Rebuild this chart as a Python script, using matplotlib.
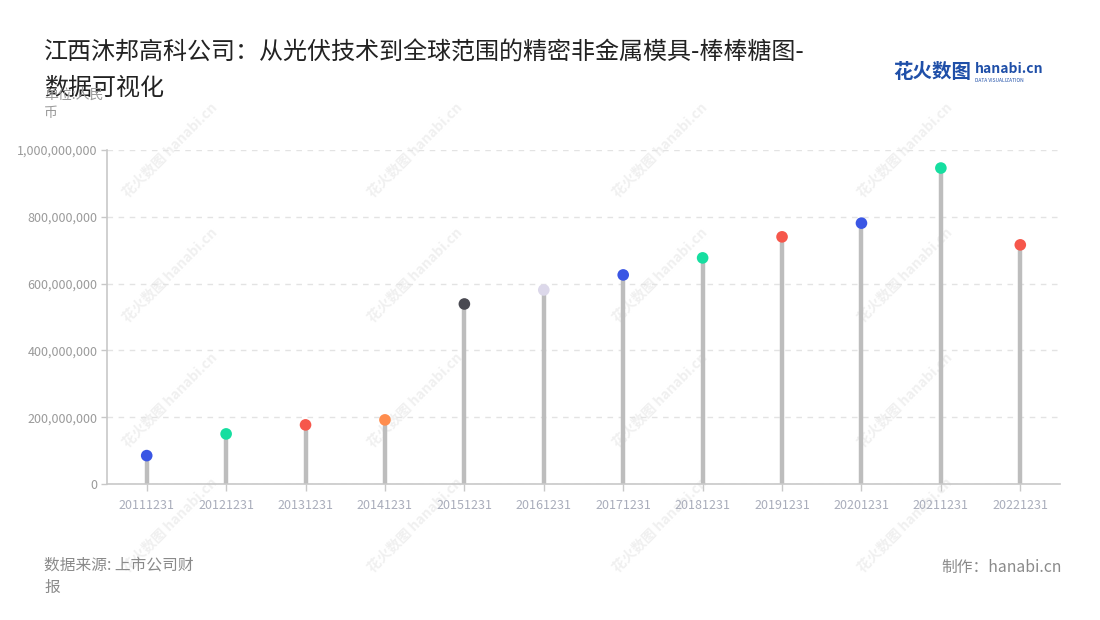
import matplotlib
matplotlib.use("Agg")
import matplotlib.pyplot as plt
from matplotlib.ticker import FuncFormatter

plt.rcParams["font.family"] = ["Noto Sans CJK SC", "DejaVu Sans"]

# data
periods = ["20111231", "20121231", "20131231", "20141231", "20151231", "20161231",
           "20171231", "20181231", "20191231", "20201231", "20211231", "20221231"]
values = [85e6, 150e6, 177e6, 192e6, 539e6, 581e6,
          626e6, 677e6, 740e6, 781e6, 946e6, 716e6]
dot_colors = ["#3a56e4", "#16dea0", "#f6574b", "#ff8d4e", "#4a4a52", "#dcd8ea",
              "#3a56e4", "#16dea0", "#f6574b", "#3a56e4", "#16dea0", "#f6574b"]

title = "江西沐邦高科公司：从光伏技术到全球范围的精密非金属模具-棒棒糖图-\n数据可视化"

fig = plt.figure(figsize=(11, 6.2), dpi=100)
ax = fig.add_axes([107 / 1100, 1 - 484 / 620, 953 / 1100, 334 / 620])
ax.set_zorder(1)

# faint watermarks, kept behind the axes
for wx in (170, 415, 660, 905):
    for wy in (150, 275, 400, 525):
        fig.text(wx / 1100, 1 - wy / 620, "花火数图 hanabi.cn", rotation=45,
                 color="#f0f0f0", fontsize=10, fontweight="bold",
                 ha="center", va="center", zorder=-1)

x = range(len(periods))
ax.vlines(x, 0, values, color="#bdbdbd", linewidth=3.2, zorder=2)
ax.scatter(x, values, s=70, c=dot_colors, zorder=3, edgecolors="none")

ax.set_xlim(-0.5, len(periods) - 0.5)
ax.set_ylim(0, 1e9)
ax.set_yticks([0, 2e8, 4e8, 6e8, 8e8, 1e9])
ax.yaxis.set_major_formatter(FuncFormatter(lambda v, _: f"{v:,.0f}"))
ax.set_xticks(list(x))
ax.set_xticklabels(periods)
ax.tick_params(axis="x", colors="#c8c8c8", labelcolor="#a9adbb", labelsize=9,
               length=5, width=1, pad=6)
ax.tick_params(axis="y", colors="#c8c8c8", labelcolor="#9a9a9a", labelsize=9,
               length=4, width=1, pad=3)
ax.grid(axis="y", color="#e3e3e3", linestyle=(0, (4, 4)), linewidth=1)
ax.set_axisbelow(True)
for side in ("top", "right"):
    ax.spines[side].set_visible(False)
for side in ("left", "bottom"):
    ax.spines[side].set_color("#c8c8c8")
    ax.spines[side].set_linewidth(1.2)
ax.patch.set_alpha(0)

fig.text(44 / 1100, 1 - 40 / 620, title, fontsize=17.3, color="#222222",
         ha="left", va="top", linespacing=1.45)
fig.text(44 / 1100, 1 - 88 / 620, "单位:人民\n币", fontsize=10, color="#9a9a9a",
         ha="left", va="top", linespacing=1.4)

# logo
fig.text(893 / 1100, 1 - 72 / 620, "花火数图", fontsize=14, fontweight="bold",
         color="#1f4fa8", ha="left", va="center")
fig.text(975 / 1100, 1 - 69 / 620, "hanabi.cn", fontsize=10, fontweight="bold",
         color="#1f4fa8", ha="left", va="center")
fig.text(975 / 1100, 1 - 80 / 620, "DATA VISUALIZATION", fontsize=3.5,
         color="#1f4fa8", ha="left", va="center")

fig.text(44 / 1100, 1 - 557 / 620, "数据来源: 上市公司财\n报", fontsize=11.3,
         color="#8a8a8a", ha="left", va="top", linespacing=1.35)
fig.text(1062 / 1100, 1 - 567 / 620, "制作：hanabi.cn", fontsize=11.3,
         color="#8a8a8a", ha="right", va="center")

fig.savefig("out.png", dpi=100)
